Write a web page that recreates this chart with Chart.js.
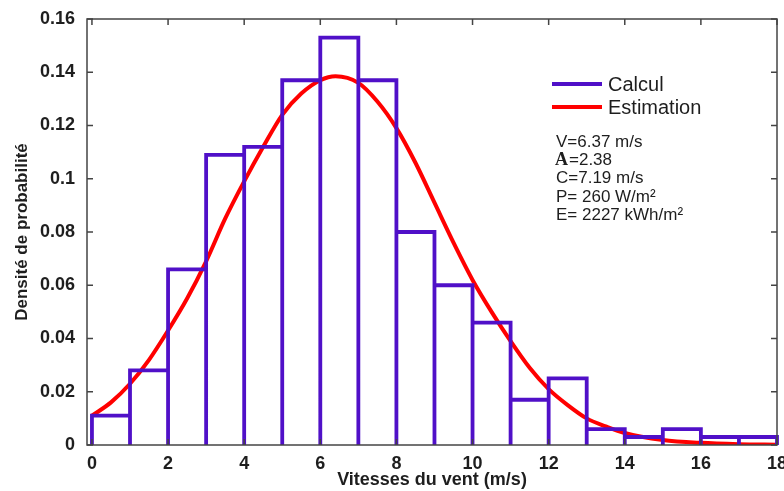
<!DOCTYPE html>
<html>
<head>
<meta charset="utf-8">
<script src="https://cdn.jsdelivr.net/npm/chart.js@4.4.0/dist/chart.umd.min.js"></script>
<style>
  html, body { margin: 0; padding: 0; background: #fff; }
  #wrap { position: relative; width: 784px; height: 491px; }
</style>
</head>
<body>
<div id="wrap"><canvas id="weibull"></canvas></div>
<script>
// histogramme des vitesses, classes de 1 m/s
const binStart = [0, 1, 2, 3, 4, 5, 6, 7, 8, 9, 10, 11, 12, 13, 14, 15, 16, 17];
const binWidth = 1;
const binHeights = [0.011, 0.028, 0.066, 0.109, 0.112, 0.137, 0.153, 0.137, 0.080,
  0.060, 0.046, 0.017, 0.025, 0.006, 0.003, 0.006, 0.003, 0.003];

// densité estimée
const curveX = [0, 0.5, 1, 1.5, 2, 2.5, 3, 3.5, 4, 4.5, 5, 5.5, 6, 6.4, 7, 7.5, 8, 8.5,
  9, 9.5, 10, 10.5, 11, 11.5, 12, 12.5, 13, 13.5, 14, 15, 16, 17, 18];
const curveY = [0.011, 0.016, 0.023, 0.032, 0.043, 0.055, 0.069, 0.085, 0.099, 0.112,
  0.124, 0.132, 0.137, 0.1385, 0.136, 0.129, 0.119, 0.106, 0.091, 0.076, 0.062, 0.050,
  0.039, 0.029, 0.021, 0.015, 0.010, 0.007, 0.0045, 0.0019, 0.0008, 0.0003, 0.0001];

const xTicks = [0, 2, 4, 6, 8, 10, 12, 14, 16, 18];
const yTicks = [0, 0.02, 0.04, 0.06, 0.08, 0.1, 0.12, 0.14, 0.16];
const seriesNames = ["Calcul", "Estimation"];
const infoLines = ["V=6.37 m/s", "A =2.38", "C=7.19 m/s", "P= 260 W/m²", "E= 2227 kWh/m²"];

const purple = "#5010c8";
const red = "#ff0000";
const ink = "#1e1e1e";
const sans = "'Liberation Sans', Arial, sans-serif";

// contour de chaque barre (gauche, haut, droite) puis une coupure
const histo = [];
binStart.forEach((x0, i) => {
  const h = binHeights[i];
  histo.push({x: x0, y: 0}, {x: x0, y: h}, {x: x0 + binWidth, y: h},
    {x: x0 + binWidth, y: 0}, {x: x0 + binWidth, y: null});
});
const curve = curveX.map((v, i) => ({x: v, y: curveY[i]}));

// cadre, graduations intérieures, légende et paramètres
const extras = {
  id: "extras",
  afterDatasetsDraw(chart) {
    const {ctx, chartArea: a, scales: {x, y}} = chart;
    ctx.save();
    ctx.strokeStyle = "#444";
    ctx.lineWidth = 1.5;
    ctx.strokeRect(a.left, a.top, a.right - a.left, a.bottom - a.top);
    ctx.beginPath();
    xTicks.forEach(v => {
      const px = x.getPixelForValue(v);
      ctx.moveTo(px, a.bottom); ctx.lineTo(px, a.bottom - 6);
      ctx.moveTo(px, a.top); ctx.lineTo(px, a.top + 6);
    });
    yTicks.forEach(v => {
      const py = y.getPixelForValue(v);
      ctx.moveTo(a.left, py); ctx.lineTo(a.left + 6, py);
      ctx.moveTo(a.right, py); ctx.lineTo(a.right - 6, py);
    });
    ctx.stroke();

    // légende
    const colors = [purple, red];
    ctx.textBaseline = "middle";
    ctx.fillStyle = ink;
    seriesNames.forEach((name, i) => {
      const ly = 84 + i * 23;
      ctx.strokeStyle = colors[i];
      ctx.lineWidth = 4;
      ctx.beginPath();
      ctx.moveTo(552, ly); ctx.lineTo(602, ly);
      ctx.stroke();
      ctx.font = "20px " + sans;
      ctx.fillText(name, 608, ly + 1);
    });

    // paramètres de la distribution
    infoLines.forEach((t, i) => {
      const ty = 142 + i * 18.4;
      if (t.startsWith("A")) {
        ctx.font = "bold 18px 'Liberation Serif', serif";
        ctx.fillText("A", 555, ty);
        ctx.font = "17px " + sans;
        ctx.fillText(t.slice(1).trim(), 569, ty);
      } else {
        ctx.font = "17px " + sans;
        ctx.fillText(t, 556, ty);
      }
    });
    ctx.restore();
  }
};

new Chart(document.getElementById("weibull"), {
  type: "line",
  data: {
    datasets: [
      {
        label: seriesNames[0],
        data: histo,
        borderColor: purple,
        borderWidth: 3.8,
        pointRadius: 0,
        tension: 0,
        spanGaps: false,
        clip: false
      },
      {
        label: seriesNames[1],
        data: curve,
        borderColor: red,
        borderWidth: 4,
        pointRadius: 0,
        cubicInterpolationMode: "monotone"
      }
    ]
  },
  options: {
    responsive: true,
    maintainAspectRatio: false,
    animation: false,
    layout: { padding: { top: 19, right: 7, left: 0, bottom: 0 } },
    plugins: { legend: { display: false }, tooltip: { enabled: false } },
    scales: {
      x: {
        type: "linear",
        min: -0.13,
        max: 18,
        afterBuildTicks: s => { s.ticks = xTicks.map(v => ({value: v})); },
        afterFit: s => { s.height = 46; s.paddingLeft = 0; s.paddingRight = 0; },
        grid: { display: false },
        border: { display: false },
        ticks: { color: ink, padding: 0, maxRotation: 0, autoSkip: false,
          font: { family: sans, size: 18, weight: "bold" } },
        title: { display: true, text: "Vitesses du vent (m/s)", color: ink,
          padding: { top: 0, bottom: 0 },
          font: { family: sans, size: 18, weight: "bold" } }
      },
      y: {
        min: 0,
        max: 0.16,
        afterBuildTicks: s => { s.ticks = yTicks.map(v => ({value: v})); },
        afterFit: s => { s.width = 87; s.paddingTop = 0; s.paddingBottom = 0; },
        grid: { display: false },
        border: { display: false },
        ticks: { color: ink, padding: 4,
          callback: v => String(+v.toFixed(2)),
          font: { family: sans, size: 18, weight: "bold" } },
        title: { display: true, text: "Densité de probabilité", color: ink,
          padding: { top: 12, bottom: 0 },
          font: { family: sans, size: 17, weight: "bold" } }
      }
    }
  },
  plugins: [extras]
});
</script>
</body>
</html>
